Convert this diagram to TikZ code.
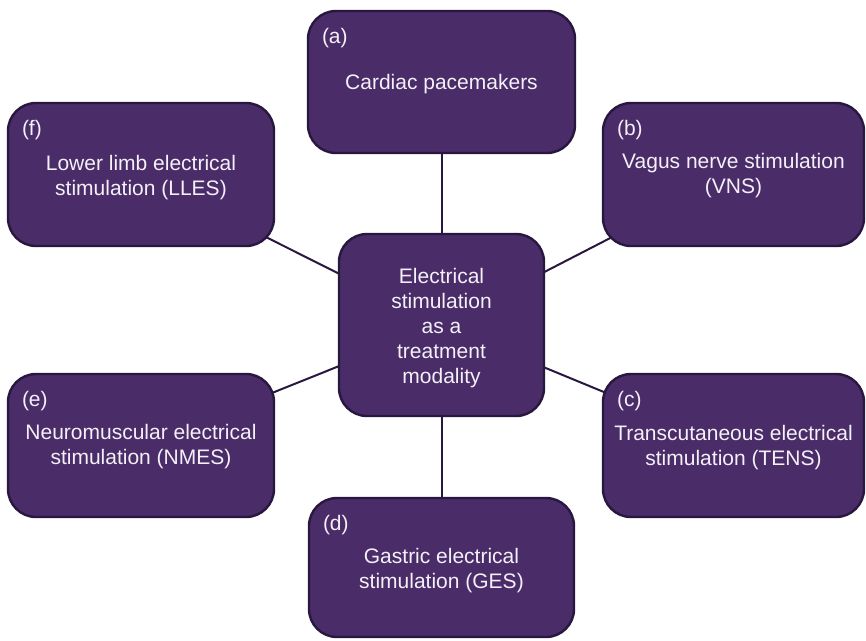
\documentclass[tikz,border=0pt]{standalone}
\usepackage{fontspec}
\setmainfont{Liberation Sans}
\usetikzlibrary{backgrounds}
\definecolor{boxfill}{HTML}{4A2C68}
\definecolor{boxline}{HTML}{28173F}
\definecolor{boxtext}{HTML}{F4F0F7}
\begin{document}
\begin{tikzpicture}[x=1pt,y=-1pt,
  topic/.style={draw=boxline, fill=boxfill, line width=2.4pt, rounded corners=28pt,
    inner sep=0pt},
  body/.style={text=boxtext, align=center, inner sep=0pt,
    font=\fontsize{21}{25}\selectfont},
  tag/.style={anchor=west, text=boxtext, inner sep=0pt,
    font=\fontsize{21}{25}\selectfont},
  link/.style={draw=boxline, line width=2pt}]
\useasboundingbox (0,0) rectangle (866,640);

% central topic
\node[topic, minimum width=205pt, minimum height=182pt] (cen) at (441.5,325) {};
\node[body] (cen-text) at ([yshift=-3pt]cen.center)
  {Electrical\\stimulation\\as a\\treatment\\modality};

% surrounding applications
\node[topic, minimum width=267pt, minimum height=142pt] (a) at (441.5,82) {};
\node[topic, minimum width=261pt, minimum height=143pt] (b) at (733.5,174.5) {};
\node[topic, minimum width=261pt, minimum height=143pt] (c) at (733.5,445.5) {};
\node[topic, minimum width=265pt, minimum height=139pt] (d) at (441.5,567.5) {};
\node[topic, minimum width=266pt, minimum height=143pt] (e) at (141,445.5) {};
\node[topic, minimum width=266pt, minimum height=143pt] (f) at (141,174.5) {};

\node[body] (a-text) at ([yshift=-2pt]a.center) {Cardiac pacemakers};
\node[body] (b-text) at ([yshift=-1.5pt]b.center) {Vagus nerve stimulation\\(VNS)};
\node[body] (c-text) at ([yshift=-2.5pt]c.center) {Transcutaneous electrical\\stimulation (TENS)};
\node[body] (d-text) at ([yshift=-3pt]d.center) {Gastric electrical\\stimulation (GES)};
\node[body] (e-text) at ([yshift=-1.5pt]e.center) {Neuromuscular electrical\\stimulation (NMES)};
\node[body] (f-text) at ([yshift=-3pt]f.center) {Lower limb electrical\\stimulation (LLES)};

% letter tags in the upper left corners
\foreach \n in {a,b,c,d,e,f}
  \node[tag] (tag\n) at ([xshift=15pt,yshift=-28pt]\n.north west) {(\n)};

% spokes from the centre to every box
\begin{scope}[on background layer]
  \foreach \n in {a,b,c,d,e,f}
    \draw[link] (cen.center) -- (\n.center);
\end{scope}
\end{tikzpicture}
\end{document}
